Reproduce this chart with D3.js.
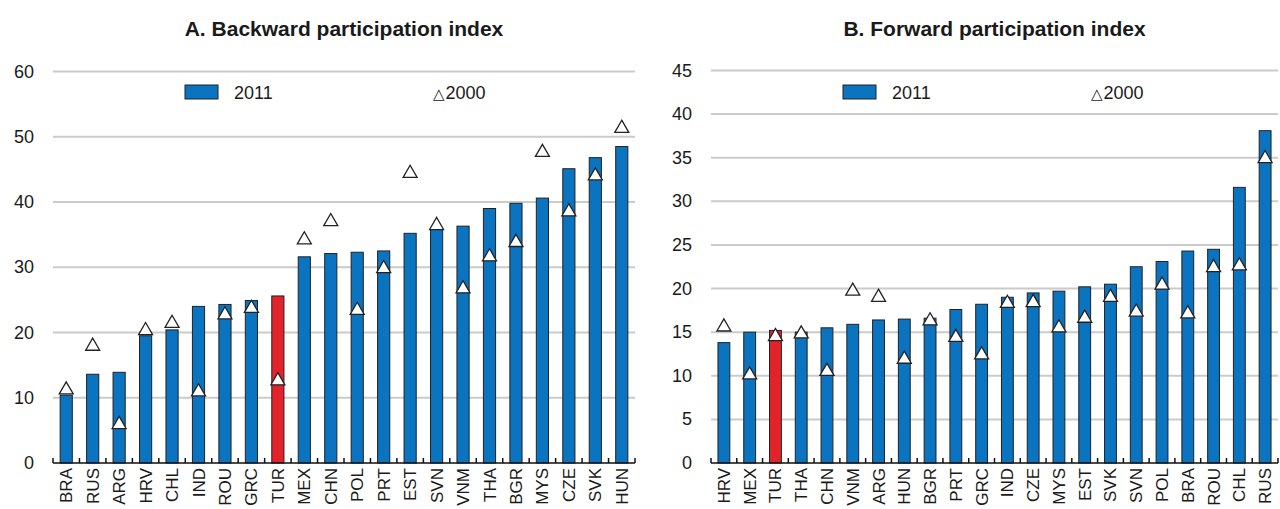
<!DOCTYPE html>
<html>
<head>
<meta charset="utf-8">
<script src="https://cdn.jsdelivr.net/npm/d3@7"></script>
<style>
  body { margin: 0; background: #fff; }
  svg text { font-family: "Liberation Sans", Arial, sans-serif; fill: #1a1a1a; }
</style>
</head>
<body>
<svg id="chart" width="1280" height="509"></svg>
<script>
// panel A - backward participation
var backCountries = ["BRA","RUS","ARG","HRV","CHL","IND","ROU","GRC","TUR","MEX","CHN","POL","PRT","EST","SVN","VNM","THA","BGR","MYS","CZE","SVK","HUN"];
var back2011 = [10.4,13.6,13.9,19.5,20.4,24.0,24.3,24.9,25.6,31.6,32.1,32.3,32.5,35.2,35.8,36.3,39.0,39.8,40.6,45.1,46.8,48.5];
var back2000 = [11.2,17.9,5.9,20.3,21.4,10.9,22.7,23.7,12.6,34.2,37.0,23.4,29.8,44.4,36.4,26.7,31.6,33.8,47.6,38.5,44.0,51.3];
var backTicks = [0,10,20,30,40,50,60];

// panel B - forward participation
var fwdCountries = ["HRV","MEX","TUR","THA","CHN","VNM","ARG","HUN","BGR","PRT","GRC","IND","CZE","MYS","EST","SVK","SVN","POL","BRA","ROU","CHL","RUS"];
var fwd2011 = [13.8,15.0,15.2,15.0,15.5,15.9,16.4,16.5,16.6,17.6,18.2,19.0,19.5,19.7,20.2,20.5,22.5,23.1,24.3,24.5,31.6,38.1];
var fwd2000 = [15.6,10.1,14.5,14.8,10.5,19.7,19.0,11.9,16.3,14.4,12.4,18.3,18.4,15.5,16.6,19.0,17.3,20.4,17.1,22.4,22.6,34.9];
var fwdTicks = [0,5,10,15,20,25,30,35,40,45];

var blue = "#0b74c0";
var red = "#e2232a";

var svg = d3.select("#chart");

var drawPanel = function(opts)
{
    var g = svg.append("g");

    var x = d3.scaleBand()
        .domain(opts.countries)
        .range([opts.left, opts.right])
        .padding(0);

    var y = d3.scaleLinear()
        .domain([0, opts.max])
        .range([463, opts.top]);

    // title
    g.append("text")
        .attr("x", (opts.left + opts.right) / 2)
        .attr("y", 36)
        .attr("text-anchor", "middle")
        .style("font-size", "21px")
        .style("font-weight", "bold")
        .text(opts.title);

    // gridlines + y labels
    g.selectAll(".grid")
        .data(opts.ticks.filter(function(t){ return t > 0; }))
        .enter()
        .append("line")
        .attr("x1", opts.left)
        .attr("x2", opts.right)
        .attr("y1", function(t){ return y(t); })
        .attr("y2", function(t){ return y(t); })
        .attr("stroke", "#cbcbcb")
        .attr("stroke-width", 2);

    g.selectAll(".ylab")
        .data(opts.ticks)
        .enter()
        .append("text")
        .attr("x", opts.left - 19)
        .attr("y", function(t){ return y(t) + 6; })
        .attr("text-anchor", "end")
        .style("font-size", "18px")
        .text(function(t){ return t; });

    // legend
    g.append("rect")
        .attr("x", opts.left + 132)
        .attr("y", 85)
        .attr("width", 33)
        .attr("height", 14)
        .attr("fill", blue)
        .attr("stroke", "#222")
        .attr("stroke-width", 1);
    g.append("text")
        .attr("x", opts.left + 181)
        .attr("y", 99)
        .style("font-size", "18px")
        .text("2011");
    var l2 = g.append("text")
        .attr("x", opts.left + 380)
        .attr("y", 99)
        .style("font-size", "18px");
    l2.append("tspan").style("font-size", "15px").style("font-family", "DejaVu Sans").text("\u25B3");
    l2.append("tspan").attr("dx", 1).text("2000");

    // bars
    var bw = x.bandwidth() * 0.46;
    g.selectAll(".bar")
        .data(opts.countries)
        .enter()
        .append("rect")
        .attr("x", function(c){ return x(c) + (x.bandwidth() - bw) / 2; })
        .attr("y", function(c, i){ return y(opts.v2011[i]); })
        .attr("width", bw)
        .attr("height", function(c, i){ return y(0) - y(opts.v2011[i]); })
        .attr("fill", function(c){ return c == "TUR" ? red : blue; })
        .attr("stroke", "#222")
        .attr("stroke-width", 1);

    // axis line + ticks at slot edges
    g.append("line")
        .attr("x1", opts.left)
        .attr("x2", opts.right)
        .attr("y1", y(0))
        .attr("y2", y(0))
        .attr("stroke", "#111")
        .attr("stroke-width", 1.5);
    g.selectAll(".tick")
        .data(opts.countries.concat(["_end"]))
        .enter()
        .append("line")
        .attr("x1", function(c){ return c == "_end" ? opts.right : x(c); })
        .attr("x2", function(c){ return c == "_end" ? opts.right : x(c); })
        .attr("y1", y(0))
        .attr("y2", y(0) - 5)
        .attr("stroke", "#111")
        .attr("stroke-width", 1.5);

    // 2000 triangles
    g.selectAll(".tri")
        .data(opts.countries)
        .enter()
        .append("path")
        .attr("d", d3.symbol().type(d3.symbolTriangle).size(85))
        .attr("transform", function(c, i){
            return "translate(" + (x(c) + x.bandwidth() / 2) + "," + y(opts.v2000[i]) + ")";
        })
        .attr("fill", "#fff")
        .attr("stroke", "#222")
        .attr("stroke-width", 1.3);

    // country labels
    g.selectAll(".xlab")
        .data(opts.countries)
        .enter()
        .append("text")
        .attr("transform", function(c){
            return "translate(" + (x(c) + x.bandwidth() / 2 + 6) + "," + 468 + ") rotate(-90)";
        })
        .attr("text-anchor", "end")
        .style("font-size", "17px")
        .text(function(c){ return c; });
};

drawPanel({
    title: "A. Backward participation index",
    countries: backCountries, v2011: back2011, v2000: back2000,
    ticks: backTicks, max: 60, left: 53, right: 635, top: 71.5
});

drawPanel({
    title: "B. Forward participation index",
    countries: fwdCountries, v2011: fwd2011, v2000: fwd2000,
    ticks: fwdTicks, max: 45, left: 711, right: 1278, top: 70.5
});
</script>
</body>
</html>
